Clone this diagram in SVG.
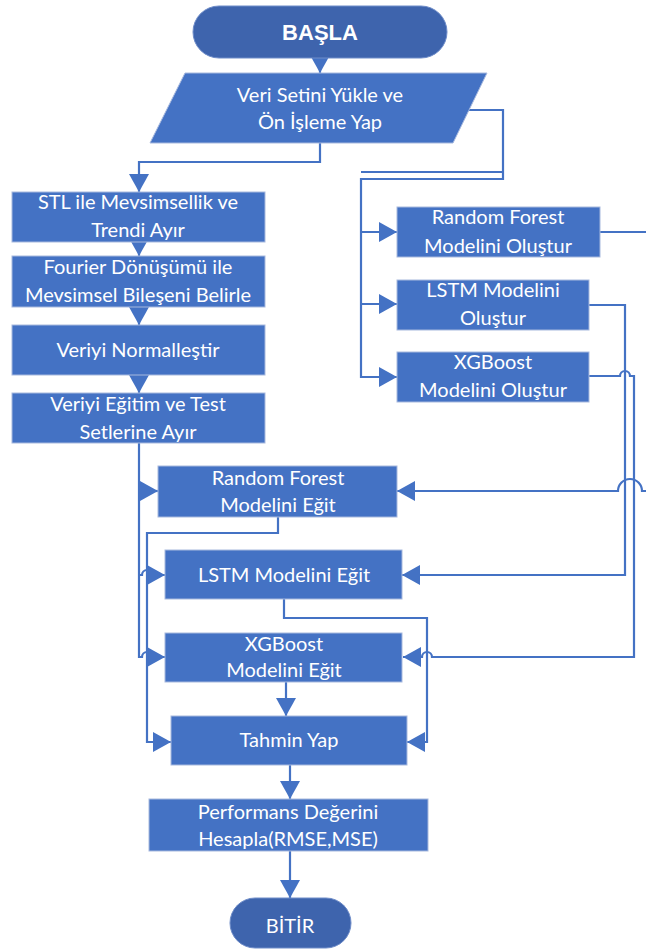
<svg xmlns="http://www.w3.org/2000/svg" width="646" height="950" viewBox="0 0 646 950">
<defs>
<marker id="arr" viewBox="0 0 18 20" refX="18" refY="10" markerWidth="18" markerHeight="20" orient="auto" markerUnits="userSpaceOnUse">
<polygon points="0,0 18,10 0,20" fill="#4472C4"/>
</marker>
<style>
.box{fill:#4472C4;stroke:#A7B9DE;stroke-width:1}
.term{fill:#3E64AD;stroke:#6F8DC9;stroke-width:1}
.t{font-family:Lato,"Liberation Sans",sans-serif;font-size:20px;fill:#FFFFFF;text-anchor:middle}
.tb{font-family:"Liberation Sans",Arial,sans-serif;font-size:22px;font-weight:bold;fill:#FFFFFF;text-anchor:middle}
.c{fill:none;stroke:#4472C4;stroke-width:2.2}
.ca{fill:none;stroke:#4472C4;stroke-width:2.2;marker-end:url(#arr)}
</style>
</defs>
<rect width="646" height="950" fill="#FFFFFF"/>

<g id="connectors">
<path class="ca" d="M320,57 V73"/>
<path class="ca" d="M320,143 V162 H139 V192"/>
<path class="ca" d="M139,242 V256"/>
<path class="ca" d="M139,307 V325"/>
<path class="ca" d="M139,375 V393"/>
<path class="ca" d="M468,110 H503 V179 H361 V377 H397"/>
<path class="c" d="M361,172 H503"/>
<path class="ca" d="M361,232 H397"/>
<path class="ca" d="M361,304 H397"/>
<path class="c" d="M600,232 H646"/>
<path class="ca" d="M589,305 H625 V575 H402"/>
<path class="ca" d="M589,376 H620 a5,5 0 0 1 10,0 H634 V657 H432 a5,5 0 0 0 -10,0 H403"/>
<path class="ca" d="M646,491 H642 a12,12 0 0 0 -24,0 H397"/>
<path class="ca" d="M139,443 V657 H142 a5,5 0 0 1 10,0 H165"/>
<path class="ca" d="M139,491 H158"/>
<path class="ca" d="M139,575 H142 a5,5 0 0 1 10,0 H165"/>
<path class="ca" d="M278,517 V533 H147 V742 H171"/>
<path class="ca" d="M284,599 V618 H427 V742 H407"/>
<path class="ca" d="M286,682 V716"/>
<path class="ca" d="M290,765 V799"/>
<path class="ca" d="M290,851 V898"/>
</g>

<g id="basla">
<rect class="term" x="193" y="6" width="254" height="52" rx="26"/>
<text class="tb" x="320" y="40">BAŞLA</text>
</g>

<g id="veri">
<polygon class="box" points="185,73 487,73 453,143 150,143"/>
<text class="t" x="320" y="102">Veri Setini Yükle ve</text>
<text class="t" x="320" y="129">Ön İşleme Yap</text>
</g>

<g id="stl">
<rect class="box" x="12" y="192" width="253" height="50"/>
<text class="t" x="138" y="209">STL ile Mevsimsellik ve</text>
<text class="t" x="138" y="237">Trendi Ayır</text>
</g>

<g id="fourier">
<rect class="box" x="12" y="256" width="253" height="51"/>
<text class="t" x="138" y="274">Fourier Dönüşümü ile</text>
<text class="t" x="138" y="302">Mevsimsel Bileşeni Belirle</text>
</g>

<g id="normal">
<rect class="box" x="12" y="325" width="253" height="50"/>
<text class="t" x="138" y="357">Veriyi Normalleştir</text>
</g>

<g id="ayir">
<rect class="box" x="12" y="393" width="253" height="50"/>
<text class="t" x="138" y="411">Veriyi Eğitim ve Test</text>
<text class="t" x="138" y="439">Setlerine Ayır</text>
</g>

<g id="rf-olustur">
<rect class="box" x="397" y="207" width="203" height="50"/>
<text class="t" x="498" y="224">Random Forest</text>
<text class="t" x="498" y="253">Modelini Oluştur</text>
</g>

<g id="lstm-olustur">
<rect class="box" x="397" y="280" width="192" height="50"/>
<text class="t" x="493" y="297">LSTM Modelini</text>
<text class="t" x="493" y="325">Oluştur</text>
</g>

<g id="xgb-olustur">
<rect class="box" x="397" y="352" width="192" height="50"/>
<text class="t" x="493" y="369">XGBoost</text>
<text class="t" x="493" y="397">Modelini Oluştur</text>
</g>

<g id="rf-egit">
<rect class="box" x="158" y="466" width="239" height="51"/>
<text class="t" x="278" y="485">Random Forest</text>
<text class="t" x="278" y="512">Modelini Eğit</text>
</g>

<g id="lstm-egit">
<rect class="box" x="165" y="550" width="237" height="49"/>
<text class="t" x="284" y="582">LSTM Modelini Eğit</text>
</g>

<g id="xgb-egit">
<rect class="box" x="165" y="633" width="237" height="49"/>
<text class="t" x="284" y="651">XGBoost</text>
<text class="t" x="284" y="677">Modelini Eğit</text>
</g>

<g id="tahmin">
<rect class="box" x="171" y="716" width="236" height="49"/>
<text class="t" x="289" y="747">Tahmin Yap</text>
</g>

<g id="performans">
<rect class="box" x="149" y="799" width="279" height="52"/>
<text class="t" x="288" y="819">Performans Değerini</text>
<text class="t" x="288" y="846">Hesapla(RMSE,MSE)</text>
</g>

<g id="bitir">
<rect class="term" x="230" y="898" width="121" height="50" rx="25"/>
<text class="t" x="290" y="933">BİTİR</text>
</g>
</svg>
